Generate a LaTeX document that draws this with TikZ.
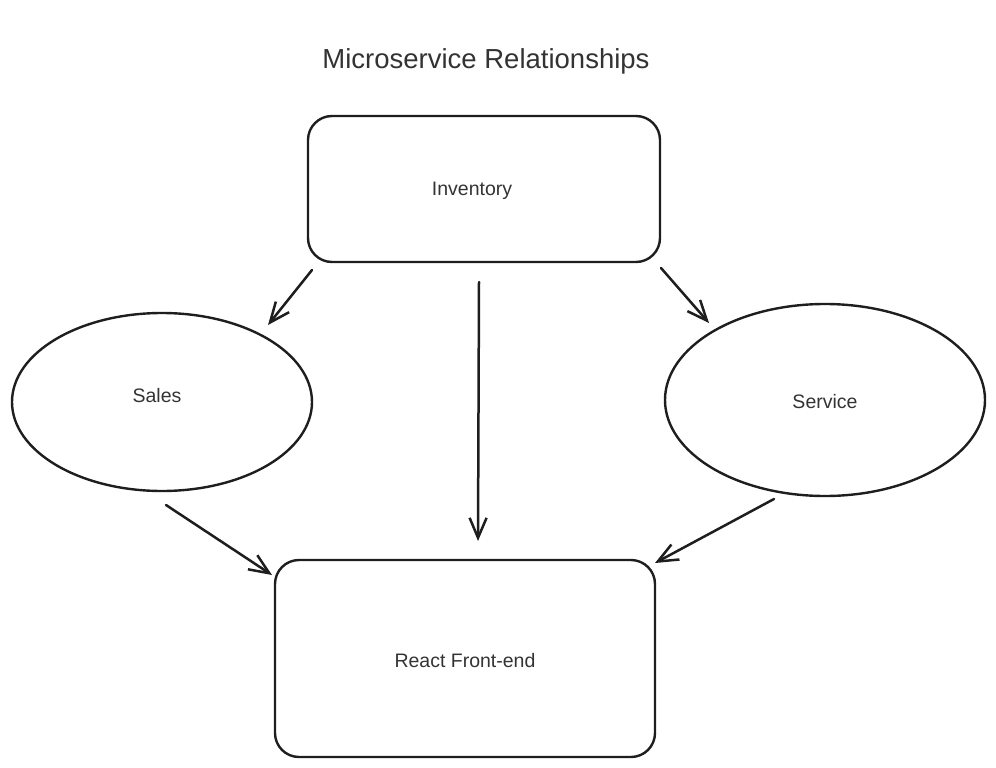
\documentclass[tikz,border=0pt]{standalone}
\usepackage{fontspec}
\setmainfont{Liberation Sans}
\usetikzlibrary{arrows.meta,shapes.geometric}
\definecolor{ink}{HTML}{1E1E1E}
\definecolor{txt}{HTML}{333333}
\begin{document}
\begin{tikzpicture}[x=1pt,y=-1pt,
  box/.style={draw=ink, line width=2.4pt, rounded corners=24pt},
  oval/.style={draw=ink, line width=2.4pt, ellipse},
  lbl/.style={text=txt, font=\fontsize{19.5}{22}\selectfont},
  conn/.style={draw=ink, line width=2.5pt, line cap=round, -{Straight Barb[length=20pt,width=17pt,line width=2.5pt]}}]
\useasboundingbox (0,0) rectangle (996,768);
\node[text=txt, font=\fontsize{27.5}{32}\selectfont] (title) at (486,61) {Microservice Relationships};
% shapes
\draw[box] (308,116) rectangle (660,262);
\node[lbl] (inv) at (472,191) {Inventory};
\draw[box] (275,560) rectangle (655,757);
\node[lbl] (react) at (465,661) {React Front-end};
\draw[oval] (162,402) ellipse [x radius=150, y radius=89];
\node[lbl] (sales) at (157,396) {Sales};
\draw[oval] (825,400) ellipse [x radius=160, y radius=96];
\node[lbl] (serv) at (825,402) {Service};
% connector ends
\coordinate (a1) at (312,270); \coordinate (b1) at (268,325);
\coordinate (a2) at (479,282); \coordinate (b2) at (478,541);
\coordinate (a3) at (661,268); \coordinate (b3) at (709,323);
\coordinate (a4) at (166,505); \coordinate (b4) at (272,575);
\coordinate (a5) at (774,499); \coordinate (b5) at (655,563);
\draw[conn] (a1) -- (b1);
\draw[conn] (a2) -- (b2);
\draw[conn] (a3) -- (b3);
\draw[conn] (a4) -- (b4);
\draw[conn] (a5) -- (b5);
\end{tikzpicture}
\end{document}
